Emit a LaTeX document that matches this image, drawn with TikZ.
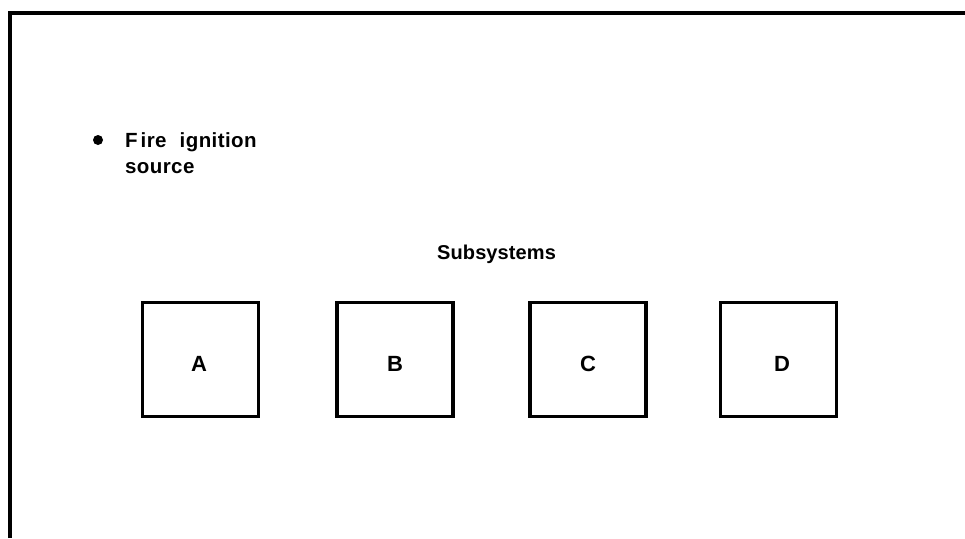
\documentclass[tikz,border=0pt]{standalone}
\usepackage{fontspec}
\setmainfont{Liberation Sans}[LetterSpace=2]
\begin{document}
\begin{tikzpicture}[x=1pt,y=-1pt,
  frameline/.style={line width=3.2pt},
  subbox/.style={draw,line width=3.8pt,minimum width=116pt,minimum height=114pt,inner sep=0pt},
  lbl/.style={font=\fontsize{20.5}{24}\selectfont\bfseries,inner sep=0pt},
  boxlbl/.style={font=\fontsize{22}{26}\selectfont\bfseries,inner sep=0pt,anchor=base}]
\useasboundingbox (0,0) rectangle (965,538);
% frame
\coordinate (tl) at (10,13);
\coordinate (tr) at (965,13);
\coordinate (bl) at (10,538);
\draw[frameline] (bl) -- (tl) -- (tr);
% bullet text
\fill (98,140) circle (5pt);
\node[lbl,anchor=base west] (fire) at (125,147) {F\hspace{3pt}ire\hspace{7pt} ignition};
\node[lbl,anchor=base west] (src) at (125,173) {source};
\node[lbl,anchor=base west,font=\fontsize{20}{24}\selectfont\bfseries\addfontfeatures{LetterSpace=0.5}] (sub) at (437,259) {Subsystems};
% boxes
\node[subbox] (A) at (200.5,359.5) {};
\node[subbox] (B) at (395,359.5) {};
\node[subbox] (C) at (588,359.5) {};
\node[subbox] (D) at (778.5,359.5) {};
\node[boxlbl] (la) at (199,371) {A};
\node[boxlbl] (lb) at (395,371) {B};
\node[boxlbl] (lc) at (588,371) {C};
\node[boxlbl] (ld) at (782,371) {D};
\end{tikzpicture}
\end{document}
